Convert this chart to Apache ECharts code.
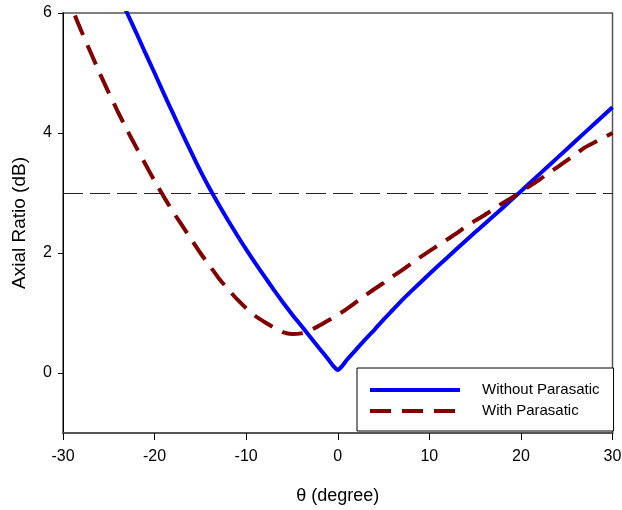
<!DOCTYPE html>
<html>
<head>
<meta charset="utf-8">
<script src="https://cdn.jsdelivr.net/npm/echarts@6/dist/echarts.min.js"></script>
<style>
  html, body { margin: 0; padding: 0; background: #fff; }
  #chart { width: 622px; height: 510px; }
</style>
</head>
<body>
<div id="chart"></div>
<script>
const seriesNames = ['Without Parasatic', 'With Parasatic']

const xTicks = [-30, -20, -10, 0, 10, 20, 30]
const yTicks = [0, 2, 4, 6]
const threshold = 3

// without parasitic element
const blueTheta = [-24, -23, -22, -21, -20, -19, -18, -17, -16, -15, -14, -13, -12, -11, -10, -9, -8, -7, -6, -5, -4, -3, -2, -1, -0.5, 0,
    0.5, 1, 2, 3, 4, 5, 6, 7, 8, 10, 12, 14, 16, 18, 20, 22, 24, 26, 28, 30]
const blueAR = [6.34, 6.0, 5.67, 5.33, 5.0, 4.66, 4.33, 4.0, 3.68, 3.37, 3.08, 2.81, 2.55, 2.30, 2.06, 1.83, 1.61, 1.39, 1.18, 0.98, 0.79, 0.60, 0.41, 0.22, 0.12, 0.05,
    0.12, 0.22, 0.39, 0.56, 0.72, 0.89, 1.05, 1.21, 1.36, 1.65, 1.93, 2.21, 2.48, 2.75, 3.03, 3.31, 3.59, 3.87, 4.15, 4.43]

// with parasitic element
const redTheta = [-30, -29, -28, -27, -26, -25, -24, -23, -22, -21, -20, -19, -18, -17, -16, -15, -14, -13, -12, -11, -10,
    -9, -8, -7, -6, -5, -4, -3, -2, -1, 0, 1, 2, 3, 4, 5, 6, 7, 8, 9, 10,
    11, 12, 13, 14, 15, 16, 17, 18, 19, 20, 21, 22, 23, 24, 25, 26, 27, 28, 29, 30]
const redAR = [6.45, 6.07, 5.70, 5.35, 5.0, 4.67, 4.35, 4.05, 3.76, 3.48, 3.2, 2.94, 2.69, 2.46, 2.23, 2.0, 1.79, 1.58, 1.40, 1.23, 1.08,
    0.95, 0.85, 0.76, 0.68, 0.65, 0.66, 0.71, 0.79, 0.88, 0.97, 1.07, 1.18, 1.29, 1.40, 1.50, 1.61, 1.71, 1.82, 1.93, 2.03,
    2.13, 2.23, 2.33, 2.44, 2.54, 2.63, 2.73, 2.83, 2.92, 3.02, 3.12, 3.22, 3.33, 3.43, 3.54, 3.65, 3.76, 3.84, 3.92, 4.0]

const font = "'Liberation Sans', Arial, sans-serif"
const pairs = (xs, ys) => xs.map((x, i) => [x, ys[i]])

const myChart = echarts.init(document.getElementById('chart'), null, { renderer: 'canvas' })

const option = {
    animation: false,
    backgroundColor: '#fff',
    grid: {
        left: 63,
        right: 9.5,
        top: 13,
        bottom: 77,
        containLabel: false,
        outerBoundsMode: 'none',
        show: true,
        borderColor: '#555',
        borderWidth: 1.5,
        backgroundColor: 'transparent'
    },
    legend: {
        left: 357,
        top: 368,
        orient: 'vertical',
        padding: [14, 14, 12, 11],
        itemWidth: 90,
        itemHeight: 2,
        itemGap: 5,
        borderColor: '#000',
        borderWidth: 1,
        backgroundColor: '#fff',
        itemStyle: { opacity: 0 },
        lineStyle: { width: 4 },
        textStyle: {
            fontSize: 15,
            fontFamily: font,
            color: '#000',
            lineHeight: 16,
            padding: [0, 0, 0, 17]
        },
        data: seriesNames
    },
    xAxis: {
        type: 'value',
        min: xTicks[0],
        max: xTicks[xTicks.length - 1],
        interval: 10,
        name: 'θ (degree)',
        nameLocation: 'middle',
        nameGap: 54,
        nameTextStyle: { fontSize: 18, fontFamily: font, color: '#000' },
        axisLine: { show: true, onZero: false, lineStyle: { color: '#555', width: 2 } },
        axisTick: { show: true, length: 7, lineStyle: { color: '#000', width: 1 } },
        axisLabel: { fontSize: 16, fontFamily: font, color: '#000', margin: 16 },
        splitLine: { show: false }
    },
    yAxis: {
        type: 'value',
        min: -1,
        max: 6,
        name: 'Axial Ratio (dB)',
        nameLocation: 'middle',
        nameGap: 34,
        nameRotate: 90,
        nameTextStyle: { fontSize: 19, fontFamily: font, color: '#000' },
        axisLine: { show: true, onZero: false, lineStyle: { color: '#000', width: 1 } },
        axisTick: { show: true, length: 5, customValues: yTicks, lineStyle: { color: '#000', width: 1 } },
        axisLabel: { fontSize: 16, fontFamily: font, color: '#000', margin: 11, customValues: yTicks },
        splitLine: { show: false }
    },
    series: [
        {
            name: seriesNames[0],
            type: 'line',
            data: pairs(blueTheta, blueAR),
            symbol: 'none',
            smooth: 0.2,
            clip: true,
            color: '#0000ff',
            lineStyle: { color: '#0000ff', width: 4 },
            z: 3
        },
        {
            name: seriesNames[1],
            type: 'line',
            data: pairs(redTheta, redAR),
            symbol: 'none',
            smooth: 0.2,
            clip: true,
            color: '#800000',
            lineStyle: { color: '#800000', width: 4, type: [21, 11], cap: 'butt' },
            z: 4,
            markLine: {
                silent: true,
                symbol: 'none',
                label: { show: false },
                lineStyle: { color: '#222', width: 1, type: [20, 7] },
                data: [{ yAxis: threshold }]
            }
        }
    ]
}

myChart.setOption(option)
</script>
</body>
</html>
